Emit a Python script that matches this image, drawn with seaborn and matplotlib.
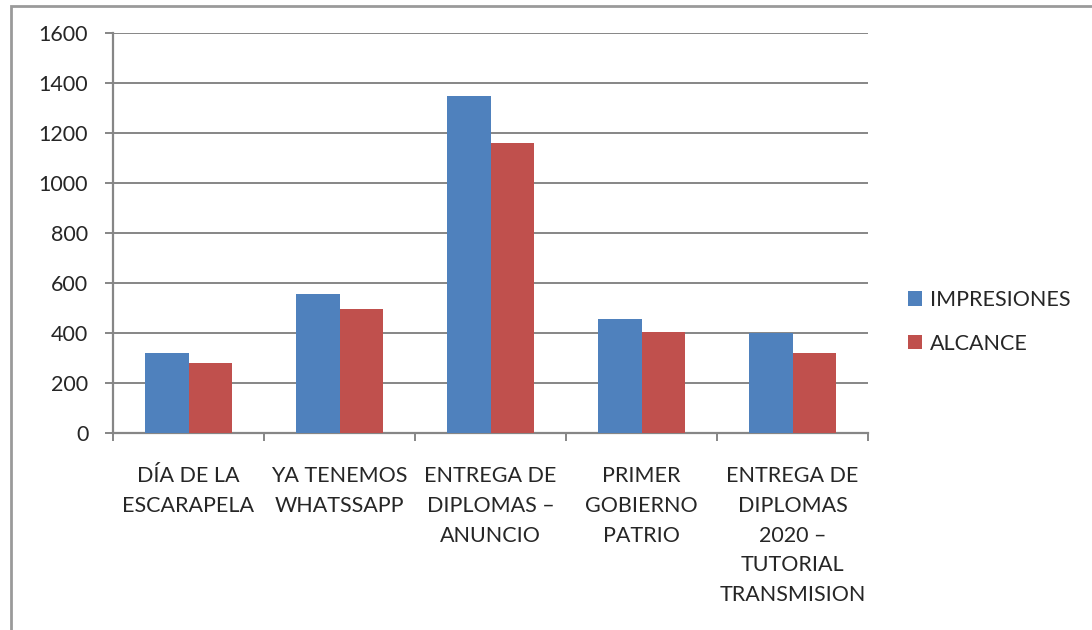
import numpy as np
import pandas as pd
import matplotlib
matplotlib.use("Agg")
import matplotlib.pyplot as plt
import seaborn as sns
from matplotlib.patches import Rectangle

# datos
categorias = ["DÍA DE LA\nESCARAPELA", "YA TENEMOS\nWHATSSAPP", "ENTREGA DE\nDIPLOMAS –\nANUNCIO",
              "PRIMER\nGOBIERNO\nPATRIO", "ENTREGA DE\nDIPLOMAS\n2020 –\nTUTORIAL\nTRANSMISION"]
impresiones = [320, 555, 1350, 455, 400]
alcance = [280, 497, 1160, 405, 320]
series = ["IMPRESIONES", "ALCANCE"]
y_ticks = [0, 200, 400, 600, 800, 1000, 1200, 1400, 1600]

df = pd.DataFrame({
    "categoria": categorias * 2,
    "serie": [series[0]] * len(categorias) + [series[1]] * len(categorias),
    "valor": impresiones + alcance,
})

sns.set_style("white")
plt.rcParams["font.family"] = ["Lato", "DejaVu Sans"]
gris = "#868686"

fig = plt.figure(figsize=(10.92, 6.3), dpi=100)
ax = fig.add_axes([113 / 1092, 1 - 433 / 630, (868 - 113) / 1092, 400 / 630])

sns.barplot(data=df, x="categoria", y="valor", hue="serie", order=categorias, hue_order=series,
            palette={"IMPRESIONES": "#4F81BD", "ALCANCE": "#C0504D"},
            width=0.57, saturation=1, linewidth=0, ax=ax, zorder=3)

ax.set_xlim(-0.5, len(categorias) - 0.5)
ax.set_ylim(0, 1600)
ax.set_yticks(y_ticks)
ax.set_xlabel("")
ax.set_ylabel("")

# lineas de la cuadricula
ax.yaxis.grid(True, color=gris, linewidth=1.4, zorder=0)
ax.set_axisbelow(True)
for s in ["top", "right"]:
    ax.spines[s].set_visible(False)
for s in ["left", "bottom"]:
    ax.spines[s].set_color(gris)
    ax.spines[s].set_linewidth(1.6)

ax.tick_params(axis="y", length=5.8, width=1.4, color=gris, pad=12, labelsize=15.5, direction="out", left=True)
ax.set_xticks(range(len(categorias)))
ax.set_xticklabels(categorias, linespacing=1.6)
ax.set_xticks(np.arange(-0.5, len(categorias), 1), minor=True)
ax.tick_params(axis="x", which="major", length=0, pad=24, labelsize=15.5)
ax.tick_params(axis="x", which="minor", length=5.8, width=1.4, color=gris, direction="out", bottom=True)
for lbl in ax.get_xticklabels():
    lbl.set_verticalalignment("top")

# leyenda a la derecha
ax.legend(loc="center left", bbox_to_anchor=(889 / 1092, 1 - 322 / 630), bbox_transform=fig.transFigure,
          frameon=False, fontsize=15.5, handlelength=0.65, handleheight=0.65, handletextpad=0.35,
          labelspacing=1.1)

# marco exterior
fig.patches.append(Rectangle((11 / 1092, -0.05), 1.2, 1 - 6 / 630 + 0.05, transform=fig.transFigure,
                             fill=False, edgecolor="#9a9a9a", linewidth=2))

fig.savefig("out.png", dpi=100)
